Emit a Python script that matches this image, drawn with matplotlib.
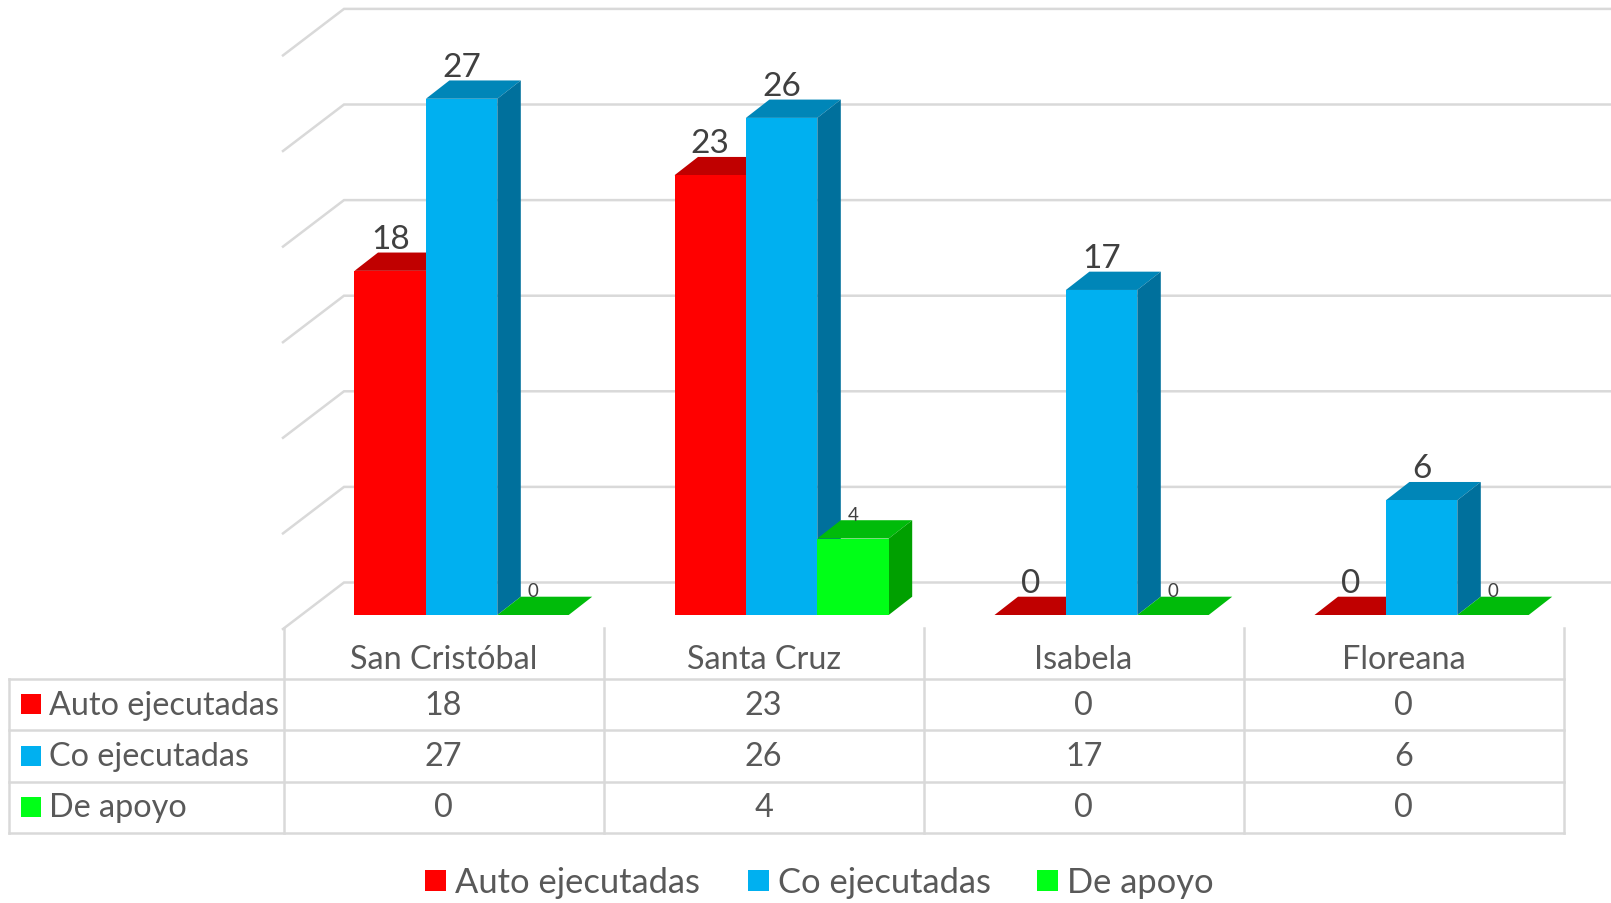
import matplotlib
matplotlib.use("Agg")
import matplotlib.pyplot as plt
from matplotlib.patches import Polygon, Rectangle

## Data
islands = ["San Cristóbal", "Santa Cruz", "Isabela", "Floreana"]
series_names = ["Auto ejecutadas", "Co ejecutadas", "De apoyo"]
auto_ejecutadas = [18, 23, 0, 0]
co_ejecutadas = [27, 26, 17, 6]
de_apoyo = [0, 4, 0, 0]
grid_values = [0, 5, 10, 15, 20, 25, 30]

## Styles
series = [auto_ejecutadas, co_ejecutadas, de_apoyo]
front_colors = ["#ff0000", "#00b0f0", "#00ff17"]
top_colors = ["#c00000", "#0086b8", "#00bb0a"]
side_colors = ["#a00000", "#00709c", "#00a000"]
label_sizes = [24, 24, 13.5]
label_gaps = [32, 32, 24.5]
text_color = "#595959"
label_color = "#404040"
line_color = "#d9d9d9"
plt.rcParams["font.family"] = ["Lato", "DejaVu Sans"]

W, H = 1611, 904
PITCH = 320.0  # px between groups
UNIT = 19.12  # px per value unit
X0 = 461.6  # px of first group centre
Y0 = 616.0  # px of value 0, front of bars
BAR_W = 71.4 / PITCH
DX, DY = 23.5 / PITCH, 18.3 / UNIT  # bar depth
WALL_DX, WALL_DY = 61.0 / PITCH, 46.5 / UNIT  # floor depth

fig = plt.figure(figsize=(W / 100, H / 100), dpi=100)

## Chart axes: x is group index, y is value
ax = fig.add_axes([0, 0, 1, 1])
ax.set_xlim(-X0 / PITCH, (W - X0) / PITCH)
ax.set_ylim((Y0 - H) / UNIT, Y0 / UNIT)
ax.axis("off")

# grid lines run along the back wall and come forward on the left side
wall_x = (283.0 - X0) / PITCH
for v in grid_values:
    y_front = v - 14.0 / UNIT
    ax.plot(
        [wall_x, wall_x + WALL_DX, ax.get_xlim()[1]],
        [y_front, y_front + WALL_DY, y_front + WALL_DY],
        color=line_color,
        lw=1.8,
        zorder=1,
        solid_joinstyle="miter",
    )

z = 2
for g in range(len(islands)):
    for s, values in enumerate(series):
        v = values[g]
        left = g + (s - 1) * BAR_W - BAR_W / 2
        # top face
        ax.add_patch(
            Polygon(
                [
                    (left, v),
                    (left + BAR_W, v),
                    (left + BAR_W + DX, v + DY),
                    (left + DX, v + DY),
                ],
                facecolor=top_colors[s],
                edgecolor="none",
                zorder=z,
            )
        )
        # side face
        if v > 0:
            ax.add_patch(
                Polygon(
                    [
                        (left + BAR_W, 0),
                        (left + BAR_W + DX, DY),
                        (left + BAR_W + DX, v + DY),
                        (left + BAR_W, v),
                    ],
                    facecolor=side_colors[s],
                    edgecolor="none",
                    zorder=z,
                )
            )
            ax.bar(
                left + BAR_W / 2,
                v,
                width=BAR_W,
                color=front_colors[s],
                zorder=z + 1,
            )
        ax.annotate(
            str(v),
            (left + BAR_W / 2, v),
            xytext=(0, label_gaps[s] * 0.72),
            textcoords="offset points",
            ha="center",
            va="center",
            fontsize=label_sizes[s],
            color=label_color,
            zorder=50,
        )
        z += 2

## Overlay axes in pixels for the data table and the legend
lay = fig.add_axes([0, 0, 1, 1])
lay.set_xlim(0, W)
lay.set_ylim(H, 0)
lay.axis("off")
lay.patch.set_alpha(0)

col_x = [283.6 + PITCH * i for i in range(len(islands) + 1)]
row_y = [679.5, 731, 782.5, 833.5]
table_left = 9

for x in col_x:
    lay.plot([x, x], [629, row_y[-1]], color=line_color, lw=1.8)
for y in row_y:
    lay.plot([table_left, col_x[-1]], [y, y], color=line_color, lw=1.8)
lay.plot([table_left, table_left], [row_y[0], row_y[-1]], color=line_color, lw=1.8)

for i, name in enumerate(islands):
    xc = (col_x[i] + col_x[i + 1]) / 2
    lay.text(xc, 660.5, name, ha="center", va="center", fontsize=23.3, color=text_color)
    for r, values in enumerate(series):
        yc = (row_y[r] + row_y[r + 1]) / 2
        lay.text(xc, yc + 0.5, str(values[i]), ha="center", va="center", fontsize=23.3, color=text_color)

for r, name in enumerate(series_names):
    yc = (row_y[r] + row_y[r + 1]) / 2
    lay.add_patch(Rectangle((21, yc - 10), 20, 20, color=front_colors[r], lw=0))
    lay.text(49, yc + 0.5, name, ha="left", va="center", fontsize=23.3, color=text_color)

# legend
for name, color, x_box in zip(series_names, front_colors, [425, 748, 1037]):
    lay.add_patch(Rectangle((x_box, 871), 21, 21, color=color, lw=0))
    lay.text(x_box + 30, 883.5, name, ha="left", va="center", fontsize=24.8, color=text_color)

fig.savefig("out.png", dpi=100)
